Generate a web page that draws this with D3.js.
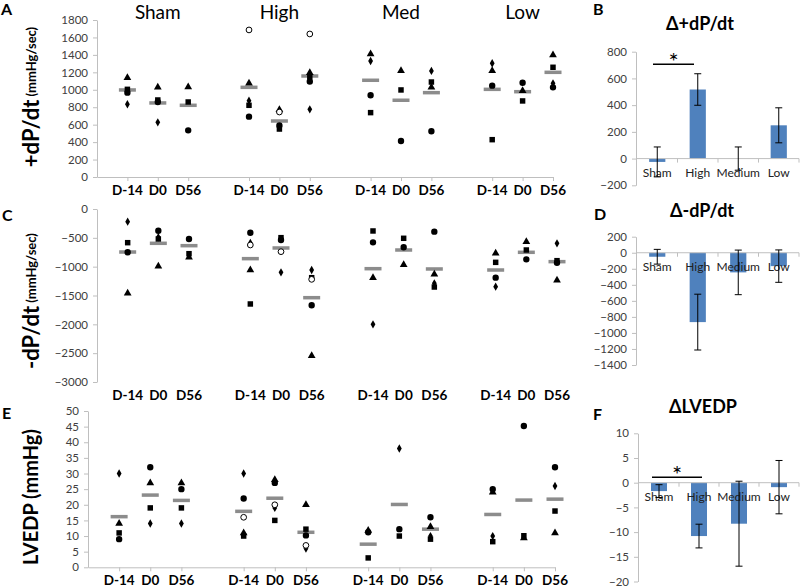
<!DOCTYPE html>
<html><head><meta charset="utf-8">
<script src="https://cdn.jsdelivr.net/npm/d3@7"></script>
<style>
body{margin:0;background:#fff}
text{font-family:Lato,"Open Sans",sans-serif}
</style>
</head><body>
<svg id="chart" width="800" height="587"></svg>
<script>
// ---------- DATA ----------
const groups = ["Sham", "High", "Med", "Low"];
const timepoints = ["D-14", "D0", "D56"];
const barCategories = ["Sham", "High", "Medium", "Low"];

// Panel A: +dP/dt (mmHg/sec), 12 categories (group x timepoint)
const aDiamond  = [834, 627, null, 875, 570, 776, 1330, null, 1216, 1304, null, 1074];
const aSquare   = [1005, 883, 860, 822, 550, 1150, 738, 998, 1089, 428, 872, 1258];
const aTriangle = [1139, 1028, 1032, 1074, 770, 1196, 1411, 1219, 1029, 1219, 990, 1399];
const aCircle   = [967, 860, 535, 692, 590, 1095, 937, 413, 524, 1047, 1081, 1028];
const aOpen     = [null, null, null, 1686, 745, 1640, null, null, null, null, null, null];
const aMean     = [998, 849, 822, 1028, 642, 1158, 1109, 880, 967, 1005, 978, 1200];
const aTicks    = [0, 200, 400, 600, 800, 1000, 1200, 1400, 1600, 1800];

// Panel C: -dP/dt (mmHg/sec)
const cDiamond  = [-220, -490, null, -590, -1098, -1058, -2000, null, -1289, -1347, null, -595];
const cSquare   = [-584, -520, -775, -1647, -497, -1191, -381, -508, -1353, -925, -711, -896];
const cTriangle = [-1462, -994, -838, -1058, null, -2544, -1191, -965, -1133, -769, -567, -1237];
const cCircle   = [-751, -376, -520, -411, -537, -1670, -578, -664, -393, -1191, -873, -931];
const cOpen     = [null, null, null, -624, -740, -1220, null, null, null, null, null, null];
const cMean     = [-746, -595, -636, -861, -676, -1538, -1035, -711, -1040, -1058, -751, -913];
const cTicks    = [0, -500, -1000, -1500, -2000, -2500, -3000];

// Panel E: LVEDP (mmHg)
const eDiamond  = [30, 14, 14, 30, 19, 6, null, 38, 10, 10, null, 26];
const eSquare   = [11, 19, 19, 10, 15, 12.2, 3, 10, 9, 8.2, 10.1, 18];
const eTriangle = [14, 27, 27, 11, 28, 20, 11.8, null, 13, 24, 9.4, 11];
const eCircle   = [9, 32, 25, 22, 27, 10.2, 11.2, 12.2, 16, 25, 45.2, 32];
const eOpen     = [null, null, null, 16, 20, 7, null, null, null, null, null, null];
const eMean     = [16.2, 23.1, 21.4, 17.9, 22.1, 11.2, 7.4, 20.1, 12.2, 16.9, 21.5, 21.8];
const eTicks    = [0, 5, 10, 15, 20, 25, 30, 35, 40, 45, 50];

// Panel B: change in +dP/dt
const bValues = [-25, 517, 0, 249];
const bErrors = [112, 118, 87, 131];
const bTicks  = [-200, 0, 200, 400, 600, 800];
// Panel D: change in -dP/dt
const dValues = [-50, -865, -245, -167];
const dErrors = [92, 348, 278, 202];
const dTicks  = [-1400, -1200, -1000, -800, -600, -400, -200, 0, 200];
// Panel F: change in LVEDP
const fValues = [-1.7, -10.8, -8.3, -0.9];
const fErrors = [1.3, 2.4, 8.6, 5.4];
const fTicks  = [-20, -15, -10, -5, 0, 5, 10];

// ---------- DRAWING ----------
const svg = d3.select("#chart");
const AXIS = "#bfbfbf", TICKTXT = "#404040";

const slots = [];
groups.forEach((g, gi) => { slots.push("gap" + gi); timepoints.forEach(t => slots.push(g + "|" + t)); });
const cats = groups.flatMap(g => timepoints.map(t => g + "|" + t));

const shapes = {
  diamond: d3.symbol().type(d3.symbolDiamond).size(20),
  square: d3.symbol().type(d3.symbolSquare).size(30),
  triangle: d3.symbol().type(d3.symbolTriangle).size(26),
  circle: d3.symbol().type(d3.symbolCircle).size(32),
  open: d3.symbol().type(d3.symbolCircle).size(26)
};

function styleYAxis(g) {
  g.select(".domain").attr("stroke", AXIS);
  g.selectAll(".tick line").attr("stroke", AXIS);
  g.selectAll(".tick text").attr("fill", TICKTXT).style("font-size", "11.5px");
}

function panelLetter(letter, x, y) {
  svg.append("text").attr("x", x).attr("y", y).text(letter)
    .style("font-size", "16px").style("font-weight", "bold");
}

function scatterPanel(c) {
  const x = d3.scalePoint().domain(slots).range([c.x0, c.x1]).padding(0);
  const y = d3.scaleLinear().domain(c.domain).range(c.range);
  const g = svg.append("g");
  g.append("g").attr("transform", `translate(${c.x0},0)`)
    .call(d3.axisLeft(y).tickValues(c.ticks).tickSize(4).tickSizeOuter(0).tickPadding(5).tickFormat(d3.format("d")))
    .call(styleYAxis);
  if (c.showXLine) {
    const xa = g.append("g").attr("transform", `translate(0,${y(0)})`)
      .call(d3.axisBottom(x).tickValues(cats).tickSize(4).tickSizeOuter(0).tickFormat(""));
    xa.select(".domain").attr("stroke", AXIS);
    xa.selectAll(".tick line").attr("stroke", AXIS);
  }
  g.selectAll(".catlab").data(cats).join("text")
    .attr("x", d => x(d)).attr("y", c.labelY)
    .attr("text-anchor", "middle").attr("dominant-baseline", "middle")
    .style("font-size", "13.5px").style("font-weight", "bold").attr("fill", "#000")
    .text(d => d.split("|")[1]);
  // mean bars
  g.selectAll(".mean").data(c.mean).join("rect")
    .attr("x", (d, i) => x(cats[i]) - 8.5).attr("y", d => y(d) - 1.75)
    .attr("width", 17).attr("height", 3.5).attr("fill", "#8c8c8c");
  // points
  c.series.forEach(s => {
    g.selectAll(null).data(s.values.map((v, i) => ({v, i})).filter(d => d.v !== null)).join("path")
      .attr("d", shapes[s.shape]())
      .attr("transform", d => `translate(${x(cats[d.i])},${y(d.v)})`)
      .attr("fill", s.shape === "open" ? "#fff" : "#000")
      .attr("stroke", s.shape === "open" ? "#000" : "none")
      .attr("stroke-width", 1);
  });
  // y title
  const t = svg.append("text")
    .attr("transform", `translate(${c.titleX},${c.titleY}) rotate(-90)`)
    .attr("text-anchor", "middle").attr("dominant-baseline", "middle")
    .style("font-weight", "bold").attr("fill", "#000");
  t.append("tspan").style("font-size", c.titleSize + "px").text(c.title);
  if (c.unit) t.append("tspan").style("font-size", "13px").text(" " + c.unit);
  panelLetter(c.letter, c.letterX, c.letterY);
  return x;
}

function barPanel(c) {
  const x = d3.scaleBand().domain(barCategories).range([c.x0, c.x1]).padding(0);
  const y = d3.scaleLinear().domain(c.domain).range(c.range);
  const g = svg.append("g");
  g.append("g").attr("transform", `translate(${c.x0 - 1},0)`)
    .call(d3.axisLeft(y).tickValues(c.ticks).tickSize(4).tickSizeOuter(0).tickPadding(5).tickFormat(d3.format("d")))
    .call(styleYAxis);
  const bw = x.bandwidth() * 0.4;
  g.selectAll(".bar").data(c.values).join("rect")
    .attr("x", (d, i) => x(barCategories[i]) + (x.bandwidth() - bw) / 2)
    .attr("y", d => Math.min(y(d), y(0)))
    .attr("width", bw).attr("height", d => Math.abs(y(d) - y(0)))
    .attr("fill", "#4f81bd");
  // zero line with ticks at band boundaries
  g.append("line").attr("x1", c.x0 - 1).attr("x2", c.x1).attr("y1", y(0)).attr("y2", y(0)).attr("stroke", AXIS);
  g.selectAll(".bt").data(barCategories).join("line")
    .attr("x1", d => x(d) + x.bandwidth()).attr("x2", d => x(d) + x.bandwidth())
    .attr("y1", y(0)).attr("y2", y(0) + 4).attr("stroke", AXIS);
  // category labels
  g.selectAll(".bl").data(barCategories).join("text")
    .attr("x", d => x(d) + x.bandwidth() / 2).attr("y", y(0) + 15)
    .attr("text-anchor", "middle").attr("dominant-baseline", "middle")
    .style("font-size", "12px").attr("fill", "#222").text(d => d);
  // error bars
  c.values.forEach((v, i) => {
    const cx = x(barCategories[i]) + x.bandwidth() / 2;
    const col = "#000";
    g.append("line").attr("x1", cx).attr("x2", cx).attr("y1", y(v + c.errors[i])).attr("y2", y(v - c.errors[i])).attr("stroke", col);
    [v + c.errors[i], v - c.errors[i]].forEach(e =>
      g.append("line").attr("x1", cx - 3.5).attr("x2", cx + 3.5).attr("y1", y(e)).attr("y2", y(e)).attr("stroke", col));
  });
  if (c.sig) {
    g.append("line").attr("x1", c.sig.x1).attr("x2", c.sig.x2).attr("y1", y(c.sig.v)).attr("y2", y(c.sig.v)).attr("stroke", "#000").attr("stroke-width", 1.5);
    g.append("text").attr("x", (c.sig.x1 + c.sig.x2) / 2).attr("y", y(c.sig.v) + 6)
      .attr("text-anchor", "middle").style("font-size", "24px").text("*");
  }
  svg.append("text").attr("x", c.titleX).attr("y", c.titleY).attr("text-anchor", "middle")
    .attr("dominant-baseline", "middle").style("font-size", "18px").style("font-weight", "bold").text(c.title);
  panelLetter(c.letter, c.letterX, c.letterY);
}

// Panels
const xA = scatterPanel({
  x0: 97, x1: 553, domain: [0, 1800], range: [177, 20], ticks: aTicks,
  series: [{shape: "diamond", values: aDiamond}, {shape: "square", values: aSquare},
           {shape: "triangle", values: aTriangle}, {shape: "circle", values: aCircle}, {shape: "open", values: aOpen}],
  mean: aMean, showXLine: true, labelY: 192,
  title: "+dP/dt", unit: "(mmHg/sec)", titleSize: 22, titleX: 33, titleY: 97,
  letter: "A", letterX: 1, letterY: 15
});
groups.forEach(gr => {
  svg.append("text").attr("x", xA(gr + "|D0")).attr("y", 14).attr("text-anchor", "middle")
    .attr("dominant-baseline", "middle").style("font-size", "19px").text(gr);
});

scatterPanel({
  x0: 97, x1: 557, domain: [-3000, 0], range: [382, 209], ticks: cTicks,
  series: [{shape: "diamond", values: cDiamond}, {shape: "square", values: cSquare},
           {shape: "triangle", values: cTriangle}, {shape: "circle", values: cCircle}, {shape: "open", values: cOpen}],
  mean: cMean, showXLine: false, labelY: 397,
  title: "-dP/dt", unit: "(mmHg/sec)", titleSize: 22, titleX: 33, titleY: 301,
  letter: "C", letterX: 2, letterY: 221
});

scatterPanel({
  x0: 88, x1: 555, domain: [0, 50], range: [567.3, 411], ticks: eTicks,
  series: [{shape: "diamond", values: eDiamond}, {shape: "square", values: eSquare},
           {shape: "triangle", values: eTriangle}, {shape: "circle", values: eCircle}, {shape: "open", values: eOpen}],
  mean: eMean, showXLine: true, labelY: 582,
  title: "LVEDP (mmHg)", unit: null, titleSize: 20, titleX: 33, titleY: 497,
  letter: "E", letterX: 2, letterY: 419
});

barPanel({
  x0: 637, x1: 799, domain: [-200, 800], range: [185.3, 51.7], ticks: bTicks,
  values: bValues, errors: bErrors, title: "Δ+dP/dt", titleX: 700, titleY: 25,
  letter: "B", letterX: 593, letterY: 15, sig: {x1: 653, x2: 694, v: 706}
});
barPanel({
  x0: 637, x1: 799, domain: [-1400, 200], range: [365, 236.7], ticks: dTicks,
  values: dValues, errors: dErrors, title: "Δ-dP/dt", titleX: 702, titleY: 212,
  letter: "D", letterX: 594, letterY: 220, sig: null
});
barPanel({
  x0: 639, x1: 799, domain: [-20, 10], range: [581.5, 433.3], ticks: fTicks,
  values: fValues, errors: fErrors, title: "ΔLVEDP", titleX: 703, titleY: 408,
  letter: "F", letterX: 593, letterY: 420, sig: {x1: 652, x2: 702, v: 1.1}
});
</script>
</body></html>
